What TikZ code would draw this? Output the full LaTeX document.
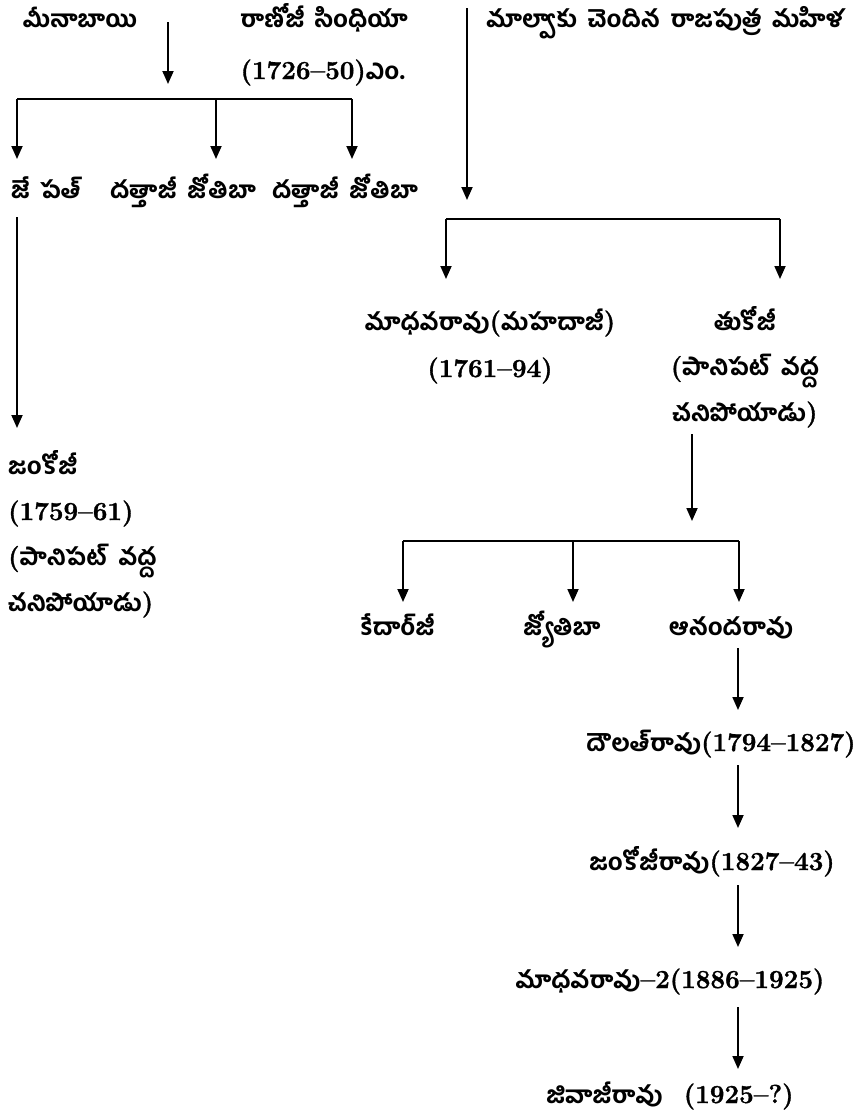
\documentclass[tikz,border=0pt]{standalone}
\usepackage{fontspec}
\newfontfamily\te[Script=Telugu,WordSpace=1.8]{Hind Guntur Bold}
\newfontfamily\numf{Latin Modern Roman}[BoldFeatures={FakeBold=1.3}]
\usetikzlibrary{arrows.meta}
\newcommand\yr[1]{{\numf\bfseries\fontsize{26}{30}\selectfont #1}}
\tikzset{
  lbl/.style={inner sep=0pt, anchor=base, font=\te\fontsize{23.5}{45.5}\selectfont},
  ln/.style={line width=1.8pt},
  arr/.style={line width=1.8pt, -{Triangle[width=11pt,length=13pt]}},
}
\begin{document}
\begin{tikzpicture}[x=1pt,y=-1pt]
\useasboundingbox (0,0) rectangle (858,1117);
% top row
\node[lbl] (mina) at (80,27) {మీనాబాయి};
\node[lbl] (ranoji) at (324,27) {రాణోజీ సింధియా};
\node[lbl] (ranojiyr) at (323,79) {\yr{(1726–50)}ఎం.};
\node[lbl] (malwa) at (665,27) {మాల్వాకు చెందిన రాజపుత్ర మహిళ};
% second row
\node[lbl] (jepat) at (46,198) {జే పత్};
\node[lbl] (datta1) at (183,198) {దత్తాజీ జోతిబా};
\node[lbl] (datta2) at (345,198) {దత్తాజీ జోతిబా};
% janakoji
\node[lbl, anchor=base west, align=left] (janko) at (8,611) {జంకోజీ\\\yr{(1759–61)}\\\yr{(}పానిపట్ వద్ద\\చనిపోయాడు\yr{)}};
% madhavarao & tukoji
\node[lbl] (madhava) at (490,330) {మాధవరావు\yr{(}మహదాజీ\yr{)}};
\node[lbl] (madhavayr) at (490,377) {\yr{(1761–94)}};
\node[lbl, align=center] (tukoji) at (745,421) {తుకోజీ\\\yr{(}పానిపట్ వద్ద\\చనిపోయాడు\yr{)}};
% third generation
\node[lbl] (kedar) at (398,635) {కేదార్‌జీ};
\node[lbl] (jyoti) at (562,635) {జ్యోతిబా};
\node[lbl] (ananda) at (731,635) {ఆనందరావు};
% line
\node[lbl] (daulat) at (721,751) {దౌలత్‌రావు\yr{(1794–1827)}};
\node[lbl] (jankoji2) at (712,870) {జంకోజీరావు\yr{(1827–43)}};
\node[lbl] (madhava2) at (670,988) {మాధవరావు\yr{–2(1886–1925)}};
\node[lbl, text depth=5pt] (jivaji) at (670,1103) {జివాజీరావు\ \ \yr{(1925–?)}};

% connectors
\coordinate (p1) at (168,22); \coordinate (p2) at (168,84);
\draw[arr] (p1) -- (p2);
\coordinate (b1l) at (17,99); \coordinate (b1m) at (216,99); \coordinate (b1r) at (352,99);
\draw[ln] (b1l) -- (b1r);
\draw[arr] (b1l) -- (17,159);
\draw[arr] (b1m) -- (216,159);
\draw[arr] (b1r) -- (352,159);
\coordinate (j1) at (17,217); \coordinate (j2) at (17,428);
\draw[arr] (j1) -- (j2);

\coordinate (m1) at (467,8); \coordinate (m2) at (467,200);
\draw[arr] (m1) -- (m2);
\coordinate (b2l) at (446,219); \coordinate (b2r) at (780,219);
\draw[ln] (b2l) -- (b2r);
\draw[arr] (b2l) -- (446,279);
\draw[arr] (b2r) -- (780,279);

\coordinate (t1) at (692,434); \coordinate (t2) at (692,521);
\draw[arr] (t1) -- (t2);
\coordinate (b3l) at (403,541); \coordinate (b3m) at (573,541); \coordinate (b3r) at (739,541);
\draw[ln] (b3l) -- (b3r);
\draw[arr] (b3l) -- (403,602);
\draw[arr] (b3m) -- (573,602);
\draw[arr] (b3r) -- (739,602);

\coordinate (a1) at (738,648); \coordinate (a2) at (738,710);
\draw[arr] (a1) -- (a2);
\coordinate (d1) at (738,765); \coordinate (d2) at (738,828);
\draw[arr] (d1) -- (d2);
\coordinate (k1) at (738,885); \coordinate (k2) at (738,947);
\draw[arr] (k1) -- (k2);
\coordinate (g1) at (738,1007); \coordinate (g2) at (738,1069);
\draw[arr] (g1) -- (g2);
\end{tikzpicture}
\end{document}
